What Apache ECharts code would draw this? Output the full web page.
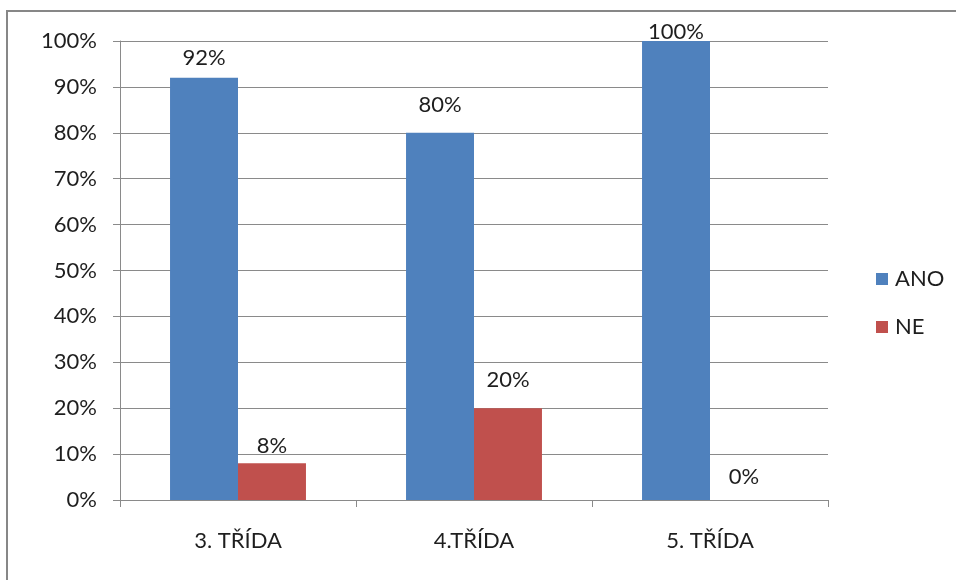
<!DOCTYPE html>
<html>
<head>
<meta charset="utf-8">
<script src="https://cdn.jsdelivr.net/npm/echarts@6/dist/echarts.min.js"></script>
<style>
  html, body { margin: 0; padding: 0; background: #ffffff; }
  #chart { width: 956px; height: 580px; }
</style>
</head>
<body>
<div id="chart"></div>
<script>
// Survey answers per class, in percent
const categories = ['3. TŘÍDA', '4.TŘÍDA', '5. TŘÍDA'];
const seriesNames = ['ANO', 'NE'];
const anoValues = [92, 80, 100];
const neValues = [8, 20, 0];
const yTicks = { min: 0, max: 100, interval: 10 };

// Gap between each value label and the top of its bar
const anoLabelGap = [8, 16, -3];
const neLabelGap = [5, 16, 11];

const FONT = 'Lato, "Noto Sans", sans-serif';
const TEXT = '#1e1e1e';
const GRID = '#8a8a8a';

function withLabels(values, gaps) {
  return values.map((v, i) => ({
    value: v,
    label: { distance: gaps[i] }
  }));
}

const chart = echarts.init(document.getElementById('chart'), null, { renderer: 'canvas' });

chart.setOption({
  animation: false,
  backgroundColor: '#ffffff',
  graphic: [{
    type: 'rect',
    shape: { x: 7, y: 11, width: 1000, height: 700 },
    style: { fill: 'none', stroke: '#878787', lineWidth: 2 },
    silent: true,
    z: -1
  }],
  grid: { left: 120, right: 128, top: 41, bottom: 80 },
  legend: {
    orient: 'vertical',
    left: 871,
    top: 262,
    itemWidth: 12,
    itemHeight: 12,
    itemGap: 24,
    icon: 'rect',
    textStyle: { fontFamily: FONT, fontSize: 22, color: TEXT, lineHeight: 24, padding: [0, 0, 0, 2] },
    data: seriesNames
  },
  xAxis: {
    type: 'category',
    data: categories,
    axisLine: { lineStyle: { color: GRID, width: 1 } },
    axisTick: { show: true, length: 7, alignWithLabel: false, lineStyle: { color: GRID } },
    axisLabel: { fontFamily: FONT, fontSize: 22, color: TEXT, margin: 30 },
    splitLine: { show: false }
  },
  yAxis: {
    type: 'value',
    min: yTicks.min,
    max: yTicks.max,
    interval: yTicks.interval,
    axisLine: { show: true, lineStyle: { color: GRID, width: 1 } },
    axisTick: { show: true, length: 7, lineStyle: { color: GRID } },
    axisLabel: { fontFamily: FONT, fontSize: 22, color: TEXT, margin: 23, formatter: '{value}%' },
    splitLine: { show: true, lineStyle: { color: GRID, width: 1 } }
  },
  series: [
    {
      name: seriesNames[0],
      type: 'bar',
      data: withLabels(anoValues, anoLabelGap),
      itemStyle: { color: '#4f81bd' },
      barGap: '0%',
      barCategoryGap: '42.4%',
      label: {
        show: true, position: 'top', formatter: '{c}%',
        fontFamily: FONT, fontSize: 22, color: TEXT, lineHeight: 24
      }
    },
    {
      name: seriesNames[1],
      type: 'bar',
      data: withLabels(neValues, neLabelGap),
      itemStyle: { color: '#c0504d' },
      barGap: '0%',
      barCategoryGap: '42.4%',
      label: {
        show: true, position: 'top', formatter: '{c}%',
        fontFamily: FONT, fontSize: 22, color: TEXT, lineHeight: 24
      }
    }
  ]
});
</script>
</body>
</html>
